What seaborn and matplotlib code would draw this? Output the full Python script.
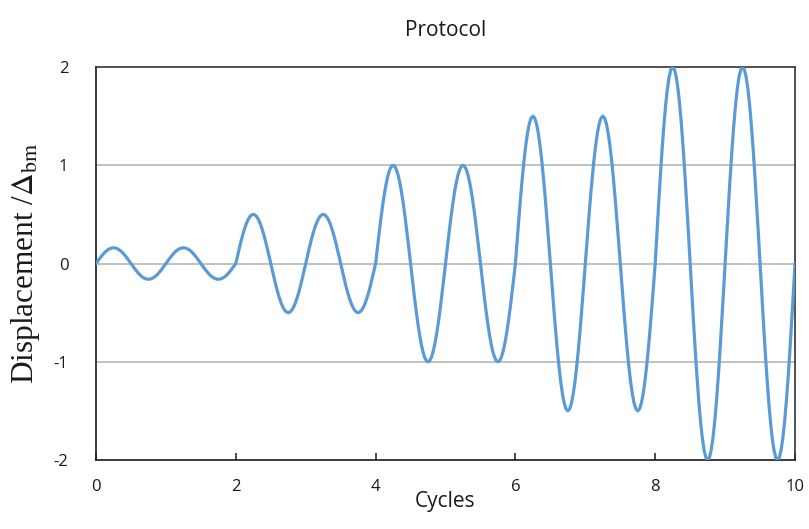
import numpy as np
import pandas as pd
import matplotlib
matplotlib.use("Agg")
import matplotlib.pyplot as plt
import seaborn as sns

# Loading protocol: target amplitude (in units of Δbm) for each cycle
cycle_index = [0, 1, 2, 3, 4, 5, 6, 7, 8, 9]
cycle_amplitude = [0.16, 0.16, 0.5, 0.5, 1.0, 1.0, 1.5, 1.5, 2.0, 2.0]
samples_per_cycle = 40

x_ticks = [0, 2, 4, 6, 8, 10]
y_ticks = [-2, -1, 0, 1, 2]

# Build the displacement history: one sine cycle per protocol step
t_parts, d_parts = [], []
for c, amp in zip(cycle_index, cycle_amplitude):
    phase = np.linspace(0, 1, samples_per_cycle, endpoint=False)
    t_parts.append(c + phase)
    d_parts.append(amp * np.sin(2 * np.pi * phase))
t_parts.append(np.array([len(cycle_index)]))
d_parts.append(np.array([0.0]))
df = pd.DataFrame({"Cycles": np.concatenate(t_parts),
                   "Displacement": np.concatenate(d_parts)})

sns.set_theme(style="white")
plt.rcParams["font.family"] = ["Open Sans", "DejaVu Sans"]
plt.rcParams["mathtext.fontset"] = "stix"

fig = plt.figure(figsize=(8.09, 5.29), dpi=100)
ax = fig.add_axes([0.1187, 0.1304, 0.8640, 0.7429])

sns.lineplot(data=df, x="Cycles", y="Displacement", ax=ax,
             color="#5B9BD5", linewidth=2.3, zorder=3)

ax.set_xlim(0, 10)
ax.set_ylim(-2, 2)
ax.set_xticks(x_ticks)
ax.set_yticks(y_ticks)
ax.set_xticklabels([str(v) for v in x_ticks], fontsize=12, color="#1a1a1a")
ax.set_yticklabels([str(v) for v in y_ticks], fontsize=12, color="#1a1a1a")

for v in [-1, 0, 1]:
    ax.axhline(v, color="#B0B0B0", linewidth=1.1, zorder=1)

for side in ["left", "bottom", "top", "right"]:
    ax.spines[side].set_visible(True)
    ax.spines[side].set_linewidth(1.2)
ax.spines["left"].set_color("#1a1a1a")
ax.spines["bottom"].set_color("#1a1a1a")
ax.spines["top"].set_color("#333333")
ax.spines["right"].set_color("#333333")

ax.tick_params(axis="x", direction="in", length=5, width=1.1,
               color="#1a1a1a", pad=14, bottom=True)
ax.tick_params(axis="y", length=0, pad=20)

ax.set_xlabel("Cycles", fontsize=15, color="#1a1a1a", labelpad=-3)
ax.set_ylabel(r"Displacement /$\Delta_{\mathrm{bm}}$", fontsize=22.5,
              family="Liberation Serif", color="#1a1a1a", labelpad=8)
ax.set_title("Protocol", fontsize=15, color="#1a1a1a", pad=22)

fig.savefig("out.png", dpi=100)
